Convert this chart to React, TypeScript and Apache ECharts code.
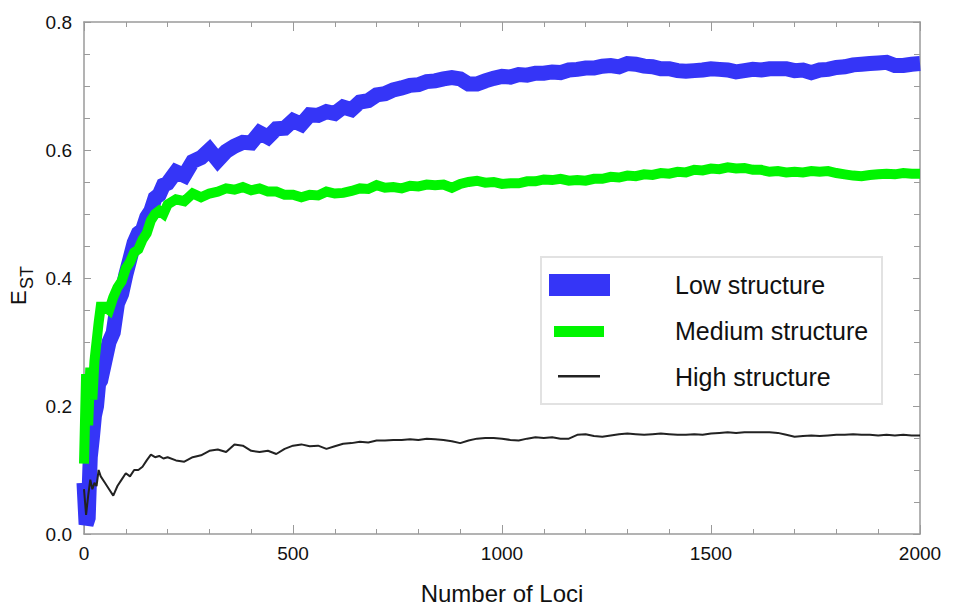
import React, { useEffect, useRef } from "react";
import * as echarts from "echarts";

const LOCI = [
  0, 5, 10, 15, 20, 25, 30, 35, 40, 50, 60, 70, 80, 90, 100, 110, 120, 130, 140, 150, 160, 170, 180, 190, 200,
  220, 240, 260, 280, 300, 320, 340, 360, 380, 400,
  420, 440, 460, 480, 500, 520, 540, 560, 580, 600,
  620, 640, 660, 680, 700, 720, 740, 760, 780, 800,
  820, 840, 860, 880, 900, 920, 940, 960, 980, 1000,
  1020, 1040, 1060, 1080, 1100, 1120, 1140, 1160, 1180, 1200,
  1220, 1240, 1260, 1280, 1300, 1320, 1340, 1360, 1380, 1400,
  1420, 1440, 1460, 1480, 1500, 1520, 1540, 1560, 1580, 1600,
  1620, 1640, 1660, 1680, 1700, 1720, 1740, 1760, 1780, 1800,
  1820, 1840, 1860, 1880, 1900, 1920, 1940, 1960, 1980, 2000,
];

const LOW = [
  0.08, 0.015, 0.025, 0.12, 0.15, 0.185, 0.2, 0.235, 0.24, 0.27, 0.3, 0.315, 0.36, 0.375, 0.405, 0.43, 0.455, 0.47, 0.475, 0.495, 0.505, 0.525, 0.53, 0.545, 0.548,
  0.566, 0.56, 0.582, 0.588, 0.6, 0.584, 0.598, 0.606, 0.612, 0.611,
  0.627, 0.62, 0.633, 0.634, 0.646, 0.64, 0.655, 0.654, 0.66, 0.657,
  0.667, 0.663, 0.675, 0.677, 0.686, 0.688, 0.694, 0.697, 0.701, 0.702,
  0.707, 0.708, 0.711, 0.713, 0.711, 0.703, 0.703, 0.708, 0.712, 0.715,
  0.714, 0.718, 0.717, 0.72, 0.72, 0.722, 0.721, 0.725, 0.726, 0.728,
  0.728, 0.731, 0.732, 0.73, 0.735, 0.734, 0.731, 0.73, 0.727, 0.727,
  0.724, 0.723, 0.724, 0.725, 0.727, 0.726, 0.725, 0.722, 0.724, 0.726,
  0.725, 0.727, 0.727, 0.727, 0.724, 0.725, 0.721, 0.725, 0.726, 0.729,
  0.73, 0.733, 0.734, 0.735, 0.736, 0.737, 0.732, 0.732, 0.734, 0.735,
];

const MEDIUM = [
  0.11, 0.25, 0.17, 0.26, 0.21, 0.27, 0.3, 0.33, 0.355, 0.355, 0.35, 0.37, 0.385, 0.395, 0.415, 0.425, 0.44, 0.445, 0.46, 0.47, 0.49, 0.5, 0.505, 0.5, 0.515,
  0.523, 0.52, 0.532, 0.526, 0.532, 0.535, 0.54, 0.538, 0.542, 0.537,
  0.54, 0.535, 0.535, 0.53, 0.53, 0.526, 0.53, 0.529, 0.535, 0.532,
  0.533, 0.536, 0.54, 0.539, 0.545, 0.541, 0.542, 0.54, 0.544, 0.543,
  0.546, 0.545, 0.546, 0.541, 0.547, 0.55, 0.552, 0.549, 0.55, 0.547,
  0.548, 0.548, 0.551, 0.551, 0.554, 0.553, 0.555, 0.552, 0.553, 0.552,
  0.555, 0.555, 0.558, 0.557, 0.56, 0.559, 0.562, 0.561, 0.564, 0.563,
  0.566, 0.565, 0.569, 0.568, 0.571, 0.57, 0.573, 0.571, 0.572, 0.569,
  0.569, 0.566, 0.567, 0.565, 0.566, 0.565, 0.567, 0.566, 0.567, 0.564,
  0.562, 0.56, 0.559, 0.561, 0.562, 0.563, 0.562, 0.564, 0.563, 0.563,
];

const HIGH = [
  0.07, 0.03, 0.06, 0.085, 0.07, 0.08, 0.075, 0.1, 0.09, 0.08, 0.07, 0.06, 0.075, 0.085, 0.095, 0.09, 0.1, 0.1, 0.105, 0.115, 0.124, 0.12, 0.122, 0.118, 0.12,
  0.115, 0.113, 0.12, 0.123, 0.13, 0.132, 0.128, 0.14, 0.138, 0.13,
  0.128, 0.13, 0.125, 0.133, 0.138, 0.14, 0.137, 0.138, 0.133, 0.137,
  0.141, 0.142, 0.144, 0.143, 0.146, 0.146, 0.147, 0.147, 0.148, 0.147,
  0.149, 0.148, 0.147, 0.145, 0.142, 0.146, 0.149, 0.15, 0.15, 0.149,
  0.147, 0.146, 0.149, 0.151, 0.15, 0.151, 0.149, 0.149, 0.155, 0.156,
  0.153, 0.152, 0.154, 0.156, 0.157, 0.156, 0.155, 0.156, 0.157, 0.156,
  0.155, 0.155, 0.156, 0.155, 0.157, 0.158, 0.159, 0.158, 0.159, 0.159,
  0.159, 0.159, 0.158, 0.155, 0.152, 0.153, 0.154, 0.153, 0.154, 0.155,
  0.155, 0.156, 0.155, 0.155, 0.154, 0.155, 0.154, 0.155, 0.154, 0.154,
];

const SERIES_NAMES = ["Low structure", "Medium structure", "High structure"];
const X_TITLE = "Number of Loci";
const Y_TITLE_MAIN = "E";
const Y_TITLE_SUB = "ST";

const FONT = '"Liberation Sans", Arial, sans-serif';
const BLUE = "#3535f7";
const GREEN = "#00f500";
const BLACK = "#222222";
const FRAME = "#9a9a9a";

export default function App() {
  const ref = useRef<HTMLDivElement>(null);

  useEffect(() => {
    if (!ref.current) return;
    const chart = echarts.init(ref.current, undefined, { renderer: "svg" });

    const pairs = (vals: number[]) => LOCI.map((x, i) => [x, vals[i]]);

    const xCommon = {
      type: "value" as const,
      min: 0,
      max: 2000,
      interval: 500,
      splitLine: { show: false },
      axisLine: { show: true, onZero: false, lineStyle: { color: FRAME, width: 1.5 } },
      axisTick: { show: true, inside: true, length: 9, lineStyle: { color: FRAME, width: 1 } },
      minorTick: { show: true, splitNumber: 5, length: 5, lineStyle: { color: FRAME, width: 1 } },
    };
    const yCommon = {
      type: "value" as const,
      min: 0,
      max: 0.8,
      interval: 0.2,
      splitLine: { show: false },
      axisLine: { show: true, onZero: false, lineStyle: { color: FRAME, width: 1.5 } },
      axisTick: { show: true, inside: true, length: 7, lineStyle: { color: FRAME, width: 1 } },
      minorTick: { show: true, splitNumber: 4, length: 6, lineStyle: { color: FRAME, width: 1 } },
    };

    const legendFont = `25px ${FONT}`;

    chart.setOption({
      animation: false,
      backgroundColor: "#ffffff",
      textStyle: { fontFamily: FONT },
      grid: { left: 84, right: 36, top: 22, bottom: 70, containLabel: false },
      xAxis: [
        {
          ...xCommon,
          position: "bottom",
          name: X_TITLE,
          nameLocation: "middle",
          nameGap: 47,
          nameTextStyle: { fontSize: 24, color: "#111", fontFamily: FONT },
          axisLabel: {
            show: true,
            fontSize: 19,
            color: "#111",
            margin: 10,
            fontFamily: FONT,
            formatter: (v: number) => String(v),
          },
        },
        {
          ...xCommon,
          position: "top",
          axisLabel: { show: false },
        },
      ],
      yAxis: [
        {
          ...yCommon,
          position: "left",
          axisLabel: {
            show: true,
            fontSize: 19,
            color: "#111",
            margin: 12,
            fontFamily: FONT,
            formatter: (v: number) => v.toFixed(1),
          },
        },
        {
          ...yCommon,
          position: "right",
          axisLabel: { show: false },
        },
      ],
      series: [
        {
          name: SERIES_NAMES[0],
          type: "line",
          data: pairs(LOW),
          showSymbol: false,
          symbol: "none",
          color: BLUE,
          lineStyle: { color: BLUE, width: 15, join: "miter" },
          z: 2,
          silent: true,
        },
        {
          name: SERIES_NAMES[1],
          type: "line",
          data: pairs(MEDIUM),
          showSymbol: false,
          symbol: "none",
          color: GREEN,
          lineStyle: { color: GREEN, width: 10, join: "miter" },
          z: 3,
          silent: true,
        },
        {
          name: SERIES_NAMES[2],
          type: "line",
          data: pairs(HIGH),
          showSymbol: false,
          symbol: "none",
          color: BLACK,
          lineStyle: { color: BLACK, width: 2 },
          z: 4,
          silent: true,
        },
      ],
      graphic: [
        {
          type: "rect",
          z: 10,
          shape: { x: 541, y: 257, width: 341, height: 147 },
          style: { fill: "#ffffff", stroke: "#e2e2e2", lineWidth: 2 },
        },
        {
          type: "rect",
          z: 11,
          shape: { x: 549, y: 274, width: 61, height: 22 },
          style: { fill: BLUE },
        },
        {
          type: "rect",
          z: 11,
          shape: { x: 554, y: 326, width: 50, height: 11 },
          style: { fill: GREEN },
        },
        {
          type: "rect",
          z: 11,
          shape: { x: 558, y: 375, width: 42, height: 2.5 },
          style: { fill: BLACK },
        },
        {
          type: "text",
          z: 11,
          x: 675,
          y: 285,
          style: { text: SERIES_NAMES[0], font: legendFont, fill: "#111", textAlign: "left", textVerticalAlign: "middle", align: "left", verticalAlign: "middle" },
        },
        {
          type: "text",
          z: 11,
          x: 675,
          y: 331,
          style: { text: SERIES_NAMES[1], font: legendFont, fill: "#111", textAlign: "left", textVerticalAlign: "middle", align: "left", verticalAlign: "middle" },
        },
        {
          type: "text",
          z: 11,
          x: 675,
          y: 377,
          style: { text: SERIES_NAMES[2], font: legendFont, fill: "#111", textAlign: "left", textVerticalAlign: "middle", align: "left", verticalAlign: "middle" },
        },
        {
          type: "group",
          x: 29,
          y: 305,
          rotation: Math.PI / 2,
          children: [
            {
              type: "text",
              x: 0,
              y: 0,
              style: { text: Y_TITLE_MAIN, font: `22px ${FONT}`, fill: "#111", textAlign: "left", textVerticalAlign: "bottom", align: "left", verticalAlign: "bottom" },
            },
            {
              type: "text",
              x: 16,
              y: 7,
              style: { text: Y_TITLE_SUB, font: `18px ${FONT}`, fill: "#111", textAlign: "left", textVerticalAlign: "bottom", align: "left", verticalAlign: "bottom" },
            },
          ],
        },
      ],
    });

    return () => chart.dispose();
  }, []);

  return (
    <div
      ref={ref}
      style={{ position: "absolute", left: 0, top: 0, width: 956, height: 610 }}
    />
  );
}
